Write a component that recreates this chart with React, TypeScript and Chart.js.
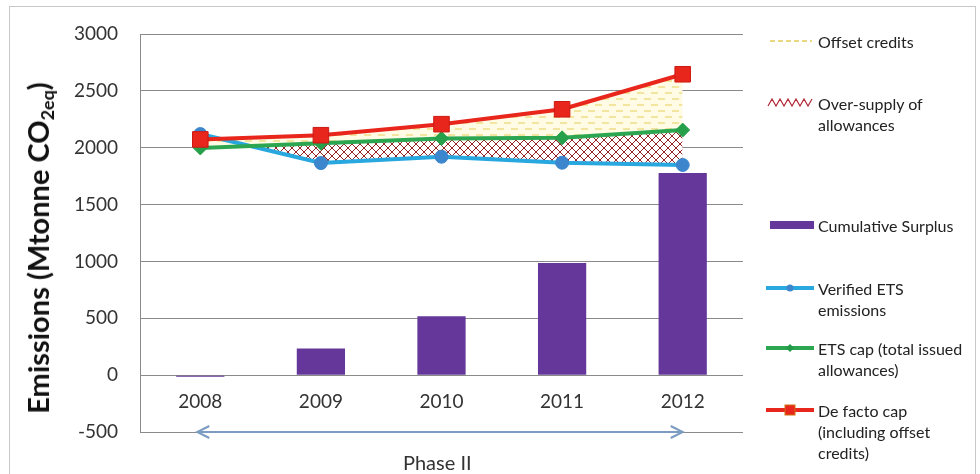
import React, { useEffect, useRef } from 'react';
import { Chart, registerables } from 'chart.js';

Chart.register(...registerables);

const years = ['2008', '2009', '2010', '2011', '2012'];
const cumulativeSurplus = [-15, 234, 517, 986, 1778];
const verifiedEmissions = [2120, 1865, 1921, 1868, 1848];
const etsCap = [1998, 2040, 2082, 2087, 2155];
const deFactoCap = [2073, 2110, 2207, 2338, 2646];
const yMin = -500;
const yMax = 3000;
const yStep = 500;

const FONT = 'Lato, "Open Sans", "DejaVu Sans", sans-serif';

function makeHatch(): CanvasPattern | string {
  const c = document.createElement('canvas');
  c.width = 8;
  c.height = 8;
  const g = c.getContext('2d');
  if (!g) return '#ffffff';
  g.fillStyle = '#ffffff';
  g.fillRect(0, 0, 8, 8);
  g.strokeStyle = '#962626';
  g.lineWidth = 1;
  g.beginPath();
  g.moveTo(0, 8);
  g.lineTo(8, 0);
  g.moveTo(-1, 1);
  g.lineTo(1, -1);
  g.moveTo(7, 9);
  g.lineTo(9, 7);
  g.moveTo(0, 0);
  g.lineTo(8, 8);
  g.moveTo(-1, 7);
  g.lineTo(1, 9);
  g.moveTo(7, -1);
  g.lineTo(9, 1);
  g.stroke();
  return g.createPattern(c, 'repeat') || '#ffffff';
}

function makeDashes(): CanvasPattern | string {
  const c = document.createElement('canvas');
  c.width = 14;
  c.height = 12;
  const g = c.getContext('2d');
  if (!g) return '#fffbe0';
  g.fillStyle = '#fffbe4';
  g.fillRect(0, 0, 14, 12);
  g.strokeStyle = '#e3cf5a';
  g.lineWidth = 1.2;
  g.beginPath();
  g.moveTo(0, 3);
  g.lineTo(7, 3);
  g.moveTo(7, 9);
  g.lineTo(14, 9);
  g.stroke();
  return g.createPattern(c, 'repeat') || '#fffbe0';
}

const arrowPlugin = {
  id: 'phaseArrow',
  afterDatasetsDraw(chart: any) {
    const x = chart.scales.x;
    const y = chart.scales.y;
    const ctx = chart.ctx as CanvasRenderingContext2D;
    const x0 = x.getPixelForValue(0) - 3;
    const x1 = x.getPixelForValue(years.length - 1);
    const yy = y.getPixelForValue(yMin);
    ctx.save();
    ctx.strokeStyle = '#7c9cc2';
    ctx.lineWidth = 2;
    ctx.beginPath();
    ctx.moveTo(x0, yy);
    ctx.lineTo(x1, yy);
    ctx.moveTo(x0 + 12, yy - 6);
    ctx.lineTo(x0, yy);
    ctx.lineTo(x0 + 12, yy + 6);
    ctx.moveTo(x1 - 12, yy - 6);
    ctx.lineTo(x1, yy);
    ctx.lineTo(x1 - 12, yy + 6);
    ctx.stroke();
    ctx.restore();
  },
};

type LegendItem = {
  lines: string[];
  y: number;
  kind: 'dash' | 'zigzag' | 'bar' | 'circle' | 'diamond' | 'square';
};

const legendItems: LegendItem[] = [
  { lines: ['Offset credits'], y: 41, kind: 'dash' },
  { lines: ['Over-supply of', 'allowances'], y: 103, kind: 'zigzag' },
  { lines: ['Cumulative Surplus'], y: 225, kind: 'bar' },
  { lines: ['Verified ETS', 'emissions'], y: 288, kind: 'circle' },
  { lines: ['ETS cap (total issued', 'allowances)'], y: 348, kind: 'diamond' },
  { lines: ['De facto cap', '(including offset', 'credits)'], y: 410, kind: 'square' },
];

function Swatch({ kind }: { kind: LegendItem['kind'] }) {
  const w = 48;
  const h = 16;
  const m = h / 2;
  let inner: React.ReactNode = null;
  if (kind === 'dash') {
    inner = <line x1={4} y1={m} x2={46} y2={m} stroke="#e0cd5a" strokeWidth={1.5} strokeDasharray="5 3" />;
  } else if (kind === 'zigzag') {
    inner = (
      <polyline
        points="2,11 6,4 10,11 14,4 18,11 22,4 26,11 30,4 34,11 38,4 42,11 46,4"
        fill="none"
        stroke="#b02a3a"
        strokeWidth={1.2}
      />
    );
  } else if (kind === 'bar') {
    inner = <rect x={4} y={4} width={44} height={8} fill="#65379a" />;
  } else if (kind === 'circle') {
    inner = (
      <g>
        <line x1={0} y1={m} x2={48} y2={m} stroke="#29a8e0" strokeWidth={4} />
        <circle cx={24} cy={m} r={3.5} fill="#3b86cc" />
      </g>
    );
  } else if (kind === 'diamond') {
    inner = (
      <g>
        <line x1={0} y1={m} x2={48} y2={m} stroke="#2da652" strokeWidth={4} />
        <polygon points={`24,${m - 4} 28,${m} 24,${m + 4} 20,${m}`} fill="#239a48" />
      </g>
    );
  } else if (kind === 'square') {
    inner = (
      <g>
        <line x1={0} y1={m} x2={48} y2={m} stroke="#e8261c" strokeWidth={4} />
        <rect x={19} y={m - 5} width={10} height={10} fill="#e8261c" stroke="#d07010" strokeWidth={1} />
      </g>
    );
  }
  return (
    <svg width={w} height={h} style={{ position: 'absolute', left: 766, top: 0 }}>
      {inner}
    </svg>
  );
}

export default function App() {
  const canvasRef = useRef<HTMLCanvasElement | null>(null);

  useEffect(() => {
    const canvas = canvasRef.current;
    if (!canvas) return;
    const hatch = makeHatch();
    const dashes = makeDashes();
    const chart = new Chart(canvas, {
      type: 'bar',
      data: {
        labels: years,
        datasets: [
          {
            type: 'bar',
            label: 'Cumulative Surplus',
            data: cumulativeSurplus,
            backgroundColor: '#65379a',
            borderWidth: 0,
            barPercentage: 0.4,
            categoryPercentage: 1,
            order: 4,
          } as any,
          {
            type: 'line',
            label: 'Verified ETS emissions',
            data: verifiedEmissions,
            borderColor: '#29a8e0',
            borderWidth: 4,
            pointStyle: 'circle',
            pointRadius: 6.5,
            pointBackgroundColor: '#3b86cc',
            pointBorderColor: '#3b86cc',
            pointBorderWidth: 1,
            tension: 0,
            fill: false,
            order: 3,
          } as any,
          {
            type: 'line',
            label: 'ETS cap (total issued allowances)',
            data: etsCap,
            borderColor: '#2da652',
            borderWidth: 4,
            pointStyle: 'rectRot',
            pointRadius: 7,
            pointBackgroundColor: '#27a04c',
            pointBorderColor: '#27a04c',
            pointBorderWidth: 1,
            tension: 0,
            fill: { target: 1, above: hatch, below: 'rgba(0,0,0,0)' },
            order: 2,
          } as any,
          {
            type: 'line',
            label: 'De facto cap (including offset credits)',
            data: deFactoCap,
            borderColor: '#e8261c',
            borderWidth: 4,
            pointStyle: 'rect',
            pointRadius: 11,
            pointBackgroundColor: '#e8261c',
            pointBorderColor: '#cc1a12',
            pointBorderWidth: 1,
            tension: 0,
            fill: { target: 2, above: dashes, below: 'rgba(0,0,0,0)' },
            order: 1,
          } as any,
        ],
      },
      options: {
        responsive: false,
        maintainAspectRatio: false,
        animation: false,
        layout: { padding: { left: 64, right: 237, top: 34, bottom: 42 } },
        plugins: {
          legend: { display: false },
          tooltip: { enabled: false },
          title: { display: false },
          filler: { drawTime: 'beforeDatasetsDraw', propagate: false },
        },
        scales: {
          x: {
            type: 'category',
            offset: true,
            position: { y: 0 } as any,
            grid: { display: false, drawTicks: false },
            border: { display: false },
            ticks: {
              color: '#333333',
              font: { family: FONT, size: 19 },
              padding: 15,
              maxRotation: 0,
            },
          },
          y: {
            type: 'linear',
            min: yMin,
            max: yMax,
            ticks: {
              stepSize: yStep,
              color: '#333333',
              font: { family: FONT, size: 19 },
              padding: 22,
              callback: (v: any) => String(v),
            },
            grid: { color: '#8a8a8a', lineWidth: 1, drawTicks: false },
            border: { display: true, color: '#8a8a8a', width: 1 },
            afterFit: (s: any) => {
              s.width = 76;
            },
          },
        },
      } as any,
      plugins: [arrowPlugin],
    });
    return () => chart.destroy();
  }, []);

  return (
    <div
      style={{
        position: 'absolute',
        left: 0,
        top: 0,
        width: 980,
        height: 474,
        background: '#ffffff',
        overflow: 'hidden',
        fontFamily: FONT,
      }}
    >
      <div
        style={{
          position: 'absolute',
          left: 9,
          top: 6,
          width: 967,
          height: 475,
          border: '1px solid #c8c8c8',
          boxSizing: 'border-box',
        }}
      />
      <canvas
        ref={canvasRef}
        width={980}
        height={474}
        style={{ position: 'absolute', left: 0, top: 0, width: 980, height: 474 }}
      />
      <div
        style={{
          position: 'absolute',
          left: 38,
          top: 248,
          transform: 'translate(-50%, -50%) rotate(-90deg)',
          whiteSpace: 'nowrap',
          fontWeight: 700,
          fontSize: 29,
          color: '#111111',
          lineHeight: '34px',
        }}
      >
        Emissions (Mtonne CO
        <sub style={{ fontSize: '0.62em', verticalAlign: '-0.3em', lineHeight: 0 }}>2eq</sub>)
      </div>
      <div
        style={{
          position: 'absolute',
          left: 403,
          top: 450,
          fontSize: 20,
          color: '#333333',
          lineHeight: '24px',
          whiteSpace: 'nowrap',
        }}
      >
        Phase II
      </div>
      {legendItems.map((it, i) => (
        <div key={i}>
          <div style={{ position: 'absolute', left: 0, top: it.y - 8, width: 980, height: 16 }}>
            <Swatch kind={it.kind} />
          </div>
          <div
            style={{
              position: 'absolute',
              left: 818,
              top: it.y - 10.5,
              fontSize: 16,
              lineHeight: '21px',
              color: '#222222',
              whiteSpace: 'nowrap',
            }}
          >
            {it.lines.map((l, j) => (
              <div key={j}>{l}</div>
            ))}
          </div>
        </div>
      ))}
    </div>
  );
}
